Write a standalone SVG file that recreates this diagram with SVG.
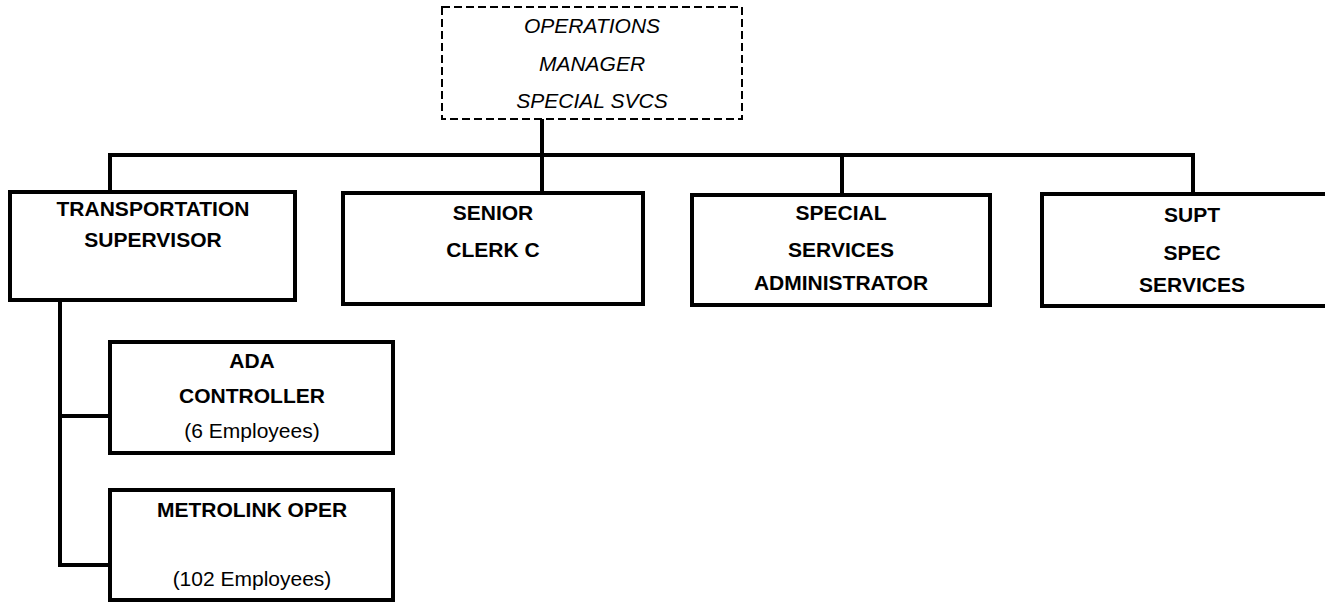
<svg xmlns="http://www.w3.org/2000/svg" width="1325" height="603" viewBox="0 0 1325 603">
  <style>
    .box { fill: #fff; stroke: #000; stroke-width: 4; }
    .dash { fill: #fff; stroke: #000; stroke-width: 2; stroke-dasharray: 8 4; }
    .wire { fill: none; stroke: #000; stroke-width: 4; stroke-linecap: square; }
    text { font-family: "Liberation Sans", Arial, sans-serif; font-size: 21px; text-anchor: middle; fill: #000; }
    .b { font-weight: bold; }
    .i { font-style: italic; }
  </style>
  <rect width="1325" height="603" fill="#fff"/>

  <g id="connectors">
    <line class="wire" x1="542" y1="119" x2="542" y2="193"/>
    <polyline class="wire" points="110,193 110,155 1193,155 1193,193"/>
    <line class="wire" x1="842" y1="155" x2="842" y2="195"/>
    <polyline class="wire" points="60,300 60,565 110,565"/>
    <line class="wire" x1="60" y1="416" x2="110" y2="416"/>
  </g>

  <g id="ops-manager">
    <rect class="dash" x="442" y="7" width="300" height="112"/>
    <text class="i" x="592" y="33">OPERATIONS</text>
    <text class="i" x="592" y="71">MANAGER</text>
    <text class="i" x="592" y="108">SPECIAL SVCS</text>
  </g>

  <g id="transportation-supervisor">
    <rect class="box" x="10" y="192" width="285" height="108"/>
    <text class="b" x="153" y="216">TRANSPORTATION</text>
    <text class="b" x="153" y="247">SUPERVISOR</text>
  </g>

  <g id="senior-clerk">
    <rect class="box" x="343" y="193" width="300" height="111"/>
    <text class="b" x="493" y="220">SENIOR</text>
    <text class="b" x="493" y="257">CLERK C</text>
  </g>

  <g id="special-services-admin">
    <rect class="box" x="692" y="195" width="298" height="110"/>
    <text class="b" x="841" y="220">SPECIAL</text>
    <text class="b" x="841" y="257">SERVICES</text>
    <text class="b" x="841" y="290">ADMINISTRATOR</text>
  </g>

  <g id="supt-spec-services">
    <rect class="box" x="1042" y="194" width="300" height="112"/>
    <text class="b" x="1192" y="222">SUPT</text>
    <text class="b" x="1192" y="260">SPEC</text>
    <text class="b" x="1192" y="292">SERVICES</text>
  </g>

  <g id="ada-controller">
    <rect class="box" x="110" y="342" width="283" height="111"/>
    <text class="b" x="252" y="368">ADA</text>
    <text class="b" x="252" y="403">CONTROLLER</text>
    <text x="252" y="438">(6 Employees)</text>
  </g>

  <g id="metrolink-oper">
    <rect class="box" x="110" y="490" width="283" height="110"/>
    <text class="b" x="252" y="517">METROLINK OPER</text>
    <text x="252" y="586">(102 Employees)</text>
  </g>
</svg>
